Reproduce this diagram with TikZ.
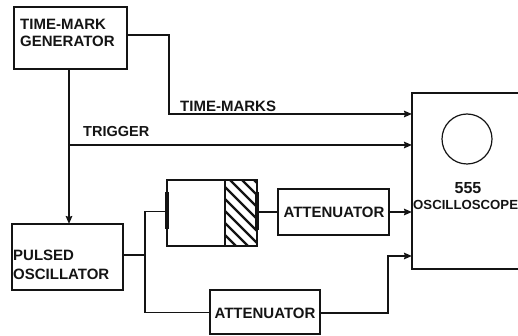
\documentclass[tikz,border=0pt]{standalone}
\usepackage{fontspec}
\setmainfont{Liberation Sans}
\usetikzlibrary{arrows.meta}
\definecolor{inkc}{gray}{0.08}
\tikzset{
  block/.style={draw=inkc,line width=1.7pt,inner sep=0pt,outer sep=0pt,rectangle,anchor=north west},
  wire/.style={draw=inkc,line width=1.7pt},
  feed/.style={wire,-{Stealth[length=8pt,width=6.5pt,inset=1pt]}},
  lbl/.style={text=inkc,inner sep=0pt,align=left,font=\fontsize{15}{17}\selectfont\bfseries},
}
\begin{document}
\begin{tikzpicture}[x=1pt,y=-1pt]
\useasboundingbox (0,0) rectangle (518,336);
\clip (0,0) rectangle (518,336);
% blocks
\node[block,minimum width=113pt,minimum height=62pt] (tmg) at (14,7) {};
\node[block,minimum width=111pt,minimum height=66pt] (pulsed) at (12,224) {};
\node[block,minimum width=90pt,minimum height=66pt] (load) at (167,180) {};
\node[block,minimum width=111pt,minimum height=46pt] (att1) at (278,189) {};
\node[block,minimum width=110pt,minimum height=44pt] (att2) at (210,290) {};
\node[block,minimum width=130pt,minimum height=176pt] (scope) at (412,93) {};
\node[draw=inkc,line width=1.2pt,circle,minimum size=50pt,inner sep=0pt] (crt) at (467,139) {};
% hatched part
\coordinate (hl) at (225,180);
\coordinate (hr) at (257,246);
\begin{scope}
\clip (hl) rectangle (hr);
\foreach \i in {-3,...,9}
  \draw[inkc,line width=2.4pt] (205,{155+\i*12}) -- (275,{225+\i*12});
\end{scope}
\draw[wire] (hl) -- (hl |- hr);
\draw[inkc,line width=4pt] (load.west |- 0,192) -- (load.west |- 0,229);
\draw[inkc,line width=4pt] (load.east |- 0,192) -- (load.east |- 0,230);
% junction coordinates
\coordinate (trigJ) at (69,145);
\coordinate (splitJ) at (145,255);
\coordinate (splitT) at (145,211.5);
\coordinate (splitB) at (145,312.5);
% connectors
\draw[feed] (tmg.east |- 0,35) -- (169,35) -- (169,114) -- (scope.west |- 0,114);
\draw[feed] (tmg.south -| trigJ) -- (pulsed.north -| trigJ);
\draw[feed] (trigJ) -- (scope.west |- trigJ);
\draw[wire] (pulsed.east |- splitJ) -- (splitJ);
\draw[wire] (load.west |- splitT) -- (splitT) -- (splitB) -- (att2.west |- splitB);
\draw[wire] (load.east |- 0,212) -- (att1.west |- 0,212);
\draw[feed] (att1.east |- 0,212) -- (scope.west |- 0,212);
\draw[feed] (att2.east |- 0,313) -- (388,313) -- (388,256) -- (scope.west |- 0,256);
% labels
\node[lbl,anchor=west] (t1) at (20,32.5) {TIME-MARK\\GENERATOR};
\node[lbl,anchor=west,font=\fontsize{15}{19}\selectfont\bfseries] (t2) at (13,264.5) {PULSED\\OSCILLATOR};
\node[lbl,anchor=west] (t3) at (180,106) {TIME-MARKS};
\node[lbl,anchor=west,font=\fontsize{14.5}{17}\selectfont\bfseries] (t4) at (83,132) {TRIGGER};
\node[lbl,anchor=center] (t6) at (334,212) {ATTENUATOR};
\node[lbl,anchor=center] (t7) at (265,313) {ATTENUATOR};
\node[lbl,anchor=center,font=\fontsize{16}{17}\selectfont\bfseries] (t8) at (468,188) {555};
\node[lbl,anchor=west,font=\fontsize{13.2}{15}\selectfont\bfseries] (t9) at (413,205) {OSCILLOSCOPE};
\end{tikzpicture}
\end{document}
